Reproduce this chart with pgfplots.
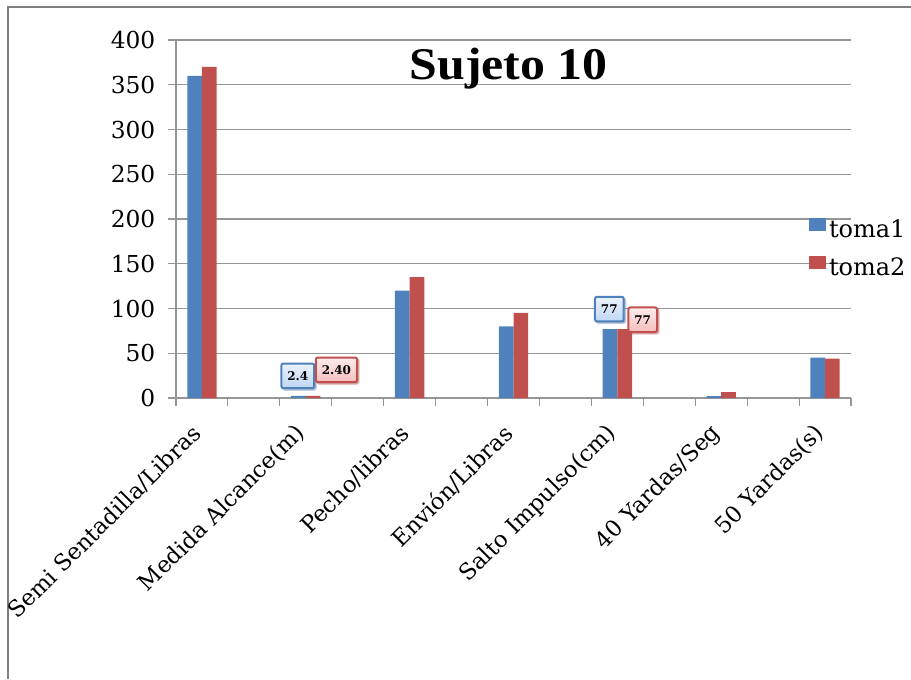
\documentclass[border=0pt]{standalone}
\usepackage{pgfplots}
\pgfplotsset{compat=1.18}
\usepackage{fontspec}
\setmainfont{DejaVu Serif}
\newfontfamily\titlefont[FakeStretch=1.1]{Liberation Serif}
\usetikzlibrary{shadows}
\definecolor{cblue}{RGB}{79,129,189}
\definecolor{cred}{RGB}{192,80,77}
\definecolor{gridgray}{RGB}{150,150,150}
\definecolor{lblue}{RGB}{190,214,244}
\definecolor{lred}{RGB}{246,190,190}
\tikzset{
  lbox/.style={line width=1.5pt, rounded corners=1.5pt, font=\bfseries\fontsize{9}{10}\selectfont,
     inner xsep=4.5pt, inner ysep=0pt, minimum height=18.5pt, text=black, anchor=center,
     drop shadow={opacity=0.35, shadow xshift=1.2pt, shadow yshift=-1.2pt}},
  bluebox/.style={lbox, draw=cblue, top color=white!70!lblue, bottom color=lblue},
  redbox/.style={lbox, draw=cred, top color=white!70!lred, bottom color=lred},
}
\begin{document}
\begin{tikzpicture}
\path[use as bounding box] (0,0) rectangle (683.25pt,-509.25pt);
\draw[gray, line width=0.8pt] (6pt,-509.25pt) -- (6pt,-5.25pt) -- (683.25pt,-5.25pt);
\begin{axis}[
  at={(132pt,-30pt)}, anchor=north west,
  scale only axis, width=506.25pt, height=268.5pt,
  xmin=-0.5, xmax=12.5, ymin=0, ymax=400,
  axis lines=left, axis line style={-, gridgray, line width=0.8pt},
  ytick={0,50,...,400},
  xtick={-0.5,0.5,...,12.5},
  x tick label as interval,
  xticklabels={Semi Sentadilla/Libras,,Medida Alcance(m),,Pecho/libras,,Envión/Libras,,Salto Impulso(cm),,40 Yardas/Seg,,50 Yardas(s)},
  tick align=outside, major tick length=6pt,
  tick style={gridgray, line width=0.8pt},
  ymajorgrids, grid style={gridgray, line width=0.8pt},
  /pgf/number format/assume math mode=true,
  tick label style={font=\fontsize{17.5}{20}\selectfont},
  yticklabel style={xshift=-6pt},
  xticklabel style={rotate=45, anchor=east, yshift=-10pt, xshift=-11.5pt, font=\fontsize{17}{20}\selectfont},
  title={Sujeto 10},
  title style={at={(0.493,0.868)}, anchor=base, font=\titlefont\bfseries\fontsize{34}{38}\selectfont},
  legend style={at={(0.938,0.505)}, anchor=north west, draw=none, fill=none,
     font=\fontsize{18}{20}\selectfont, row sep=9pt, inner sep=0pt, cells={anchor=west}},
  legend image code/.code={\fill[#1] (0pt,-1pt) rectangle (12.75pt,8.75pt);},
]
\addplot[ybar, bar width=11pt, bar shift=-5.5pt, fill=cblue, draw=none]
  coordinates {(0,360) (2,2.4) (4,120) (6,80) (8,77) (10,2) (12,45)};
\addlegendentry{toma1}
\addplot[ybar, bar width=11pt, bar shift=5.5pt, fill=cred, draw=none]
  coordinates {(0,370) (2,2.4) (4,135) (6,95) (8,77) (10,6.5) (12,44)};
\addlegendentry{toma2}
% data labels
\addplot[forget plot, only marks, mark=*, mark size=0pt, mark options={draw=none, fill=none},
  nodes near coords={2.4}, every node near coord/.append style={bluebox, xshift=-6pt, yshift=15pt}]
  coordinates {(2,2.4)};
\addplot[forget plot, only marks, mark=*, mark size=0pt, mark options={draw=none, fill=none},
  nodes near coords={2.40}, every node near coord/.append style={redbox, xshift=23pt, yshift=19.5pt}]
  coordinates {(2,2.4)};
\addplot[forget plot, only marks, mark=*, mark size=0pt, mark options={draw=none, fill=none},
  nodes near coords={77}, every node near coord/.append style={bluebox, xshift=-6pt, yshift=15pt}]
  coordinates {(8,77)};
\addplot[forget plot, only marks, mark=*, mark size=0pt, mark options={draw=none, fill=none},
  nodes near coords={77}, every node near coord/.append style={redbox, xshift=19pt, yshift=7pt}]
  coordinates {(8,77)};
\end{axis}
\end{tikzpicture}
\end{document}
